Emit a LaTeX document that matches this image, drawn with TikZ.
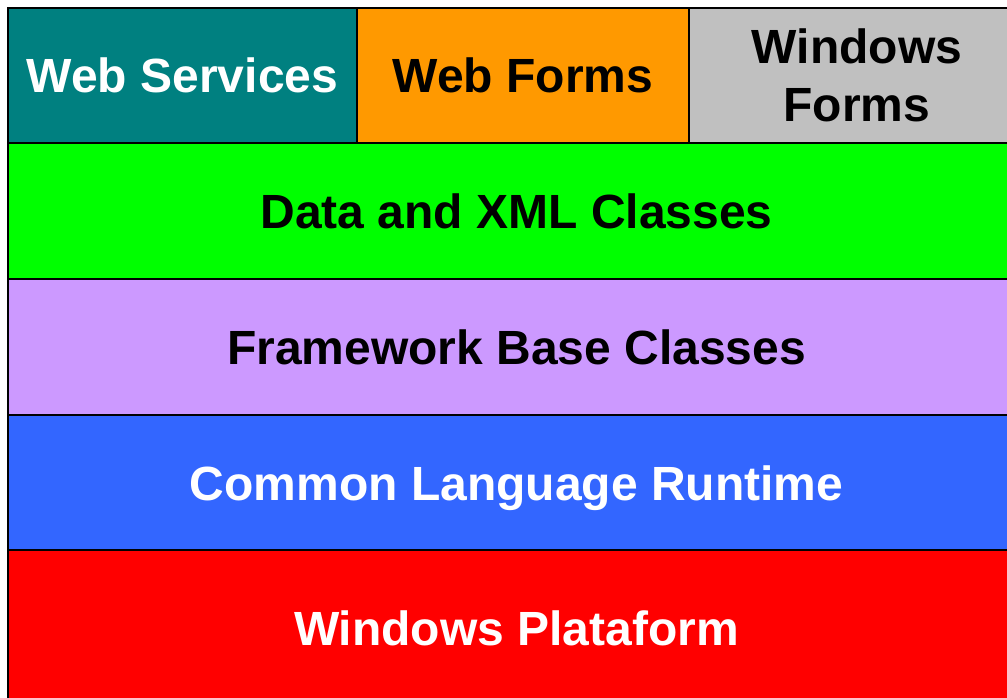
\documentclass[tikz,border=0pt]{standalone}
\usepackage{fontspec}
\setmainfont{Liberation Sans}
\definecolor{cteal}{HTML}{008080}
\definecolor{corange}{HTML}{FF9900}
\definecolor{cgray}{HTML}{C0C0C0}
\definecolor{cgreen}{HTML}{00FF00}
\definecolor{clav}{HTML}{CC99FF}
\definecolor{cblue}{HTML}{3366FF}
\definecolor{cred}{HTML}{FF0000}
\tikzset{
  layer/.style={draw=black, line width=2pt, rectangle, inner sep=0pt, outer sep=0pt,
    font=\bfseries\fontsize{48}{58}\selectfont, align=center,
    text height=34.4pt, text depth=0pt}
}
\begin{document}
\begin{tikzpicture}[x=1pt,y=-1pt]
\useasboundingbox (0,0) rectangle (1007,697);
\clip (0,0) rectangle (1007,697);
\node[layer, fill=cteal, text=white, minimum width=349pt, minimum height=135pt] (ws) at (182.5,75) {Web Services};
\node[layer, fill=corange, text=black, minimum width=332pt, minimum height=135pt] (wf) at (523,75) {Web Forms};
\node[layer, fill=cgray, text=black, minimum width=336pt, minimum height=135pt, text height=92.4pt] (winf) at (857,75) {Windows\\Forms};
\node[layer, fill=cgreen, text=black, minimum width=1017pt, minimum height=136pt] (data) at (516.5,211) {Data and XML Classes};
\node[layer, fill=clav, text=black, minimum width=1017pt, minimum height=136pt] (fbc) at (516.5,347) {Framework Base Classes};
\node[layer, fill=cblue, text=white, minimum width=1017pt, minimum height=136pt] (clr) at (516.5,483) {Common Language Runtime};
\node[layer, fill=cred, text=white, minimum width=1017pt, minimum height=156pt] (wp) at (516.5,628) {Windows Plataform};
\end{tikzpicture}
\end{document}
